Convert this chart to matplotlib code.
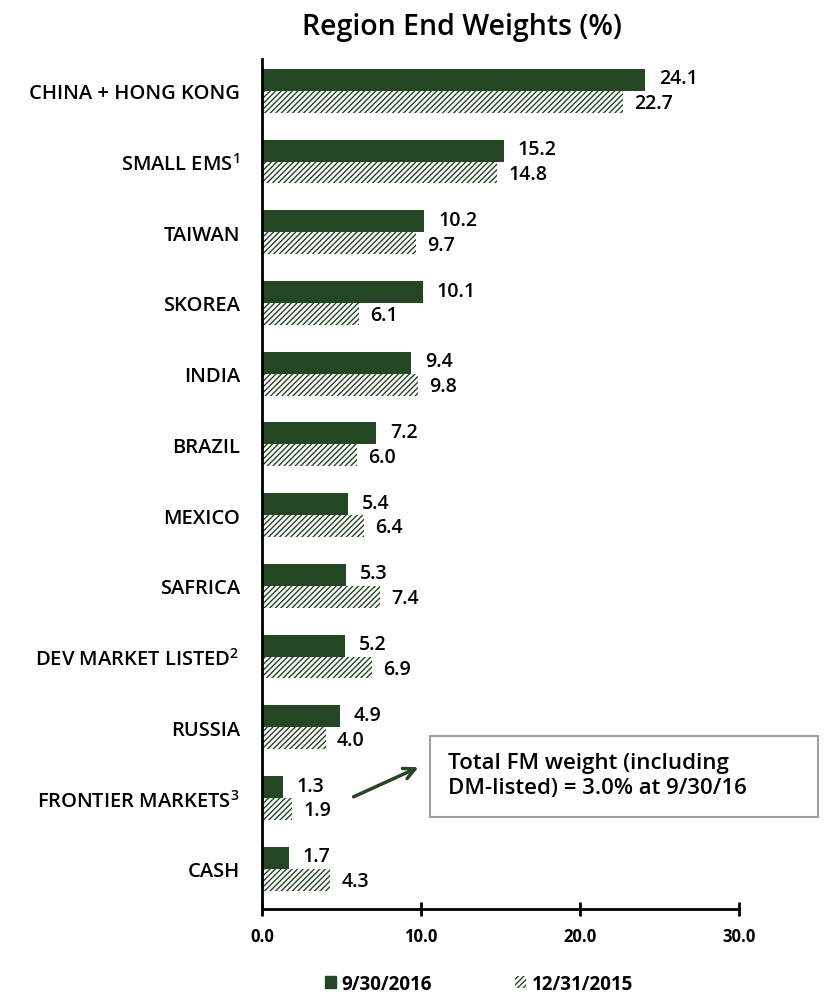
import matplotlib
matplotlib.use("Agg")
import matplotlib.pyplot as plt
from matplotlib.patches import Patch, Rectangle
import numpy as np

plt.rcParams['font.family'] = ['Open Sans', 'DejaVu Sans']
plt.rcParams['mathtext.default'] = 'regular'
plt.rcParams['hatch.linewidth'] = 1.0

categories = ["CHINA + HONG KONG", "SMALL EMS$^{1}$", "TAIWAN", "SKOREA", "INDIA", "BRAZIL",
              "MEXICO", "SAFRICA", "DEV MARKET LISTED$^{2}$", "RUSSIA", "FRONTIER MARKETS$^{3}$", "CASH"]
w_2016 = [24.1, 15.2, 10.2, 10.1, 9.4, 7.2, 5.4, 5.3, 5.2, 4.9, 1.3, 1.7]
w_2015 = [22.7, 14.8, 9.7, 6.1, 9.8, 6.0, 6.4, 7.4, 6.9, 4.0, 1.9, 4.3]
xticks = [0, 10, 20, 30]
series_names = ["9/30/2016", "12/31/2015"]

green = '#234723'
W = 'semibold'
fig = plt.figure(figsize=(8.24, 10.03), dpi=100)
ax = fig.add_axes([262/824, 1-910/1003, (739-262)/824, 850/1003])

y = np.arange(len(categories))
h = 0.31
ax.barh(y - h/2, w_2016, height=h, color=green, edgecolor=green, linewidth=0)
ax.barh(y + h/2, w_2015, height=h, color='white', edgecolor=green, hatch='//////', linewidth=0)

for yi, v in zip(y, w_2016):
    ax.annotate(f"{v:.1f}", (v, yi - h/2), xytext=(10, 1), textcoords='offset points',
                va='center', ha='left', fontsize=14, fontweight=W)
for yi, v in zip(y, w_2015):
    ax.annotate(f"{v:.1f}", (v, yi + h/2), xytext=(8, -1), textcoords='offset points',
                va='center', ha='left', fontsize=14, fontweight=W)

ax.set_xlim(0, 30)
ax.set_ylim(11.57, -0.45)
ax.set_yticks(y)
ax.set_yticklabels(categories, fontsize=14.5, fontweight=W)
ax.tick_params(axis='y', length=0, pad=16)
ax.set_xticks(xticks)
ax.set_xticklabels([f"{t:.1f}" for t in xticks], fontsize=12, fontweight='bold')
ax.tick_params(axis='x', direction='inout', length=10, width=2, pad=8)
for s in ['top', 'right']:
    ax.spines[s].set_visible(False)
ax.spines['left'].set_linewidth(2)
ax.spines['bottom'].set_linewidth(2)
ax.spines['bottom'].set_bounds(0, 30)

ax.set_title("Region End Weights (%)", fontsize=20.5, fontweight=W, pad=18, x=0.42)

# annotation box
ax.add_patch(Rectangle((10.57, 9.12), 24.4, 1.15, fc='white', ec='#a0a0a0', lw=1.5,
                       clip_on=False, zorder=3))
ax.text(11.7, 9.68, "Total FM weight (including\nDM-listed) = 3.0% at 9/30/16",
        fontsize=16, fontweight=W, va='center', ha='left', linespacing=1.25, zorder=4)
ax.annotate("", xy=(10.0, 9.55), xytext=(5.6, 10.0),
            arrowprops=dict(arrowstyle='->', color=green, lw=2.5, mutation_scale=20))

handles = [Patch(facecolor=green, edgecolor=green),
           Patch(facecolor='white', edgecolor=green, hatch='//////', linewidth=0)]
fig.legend(handles, series_names, loc='center', bbox_to_anchor=(0.581, 1-985/1003), ncol=2,
           frameon=False, handlelength=0.6, handleheight=0.6, handletextpad=0.3,
           columnspacing=4.4, prop={'size': 13.5, 'weight': 'bold'})

fig.savefig("out.png", dpi=100)
